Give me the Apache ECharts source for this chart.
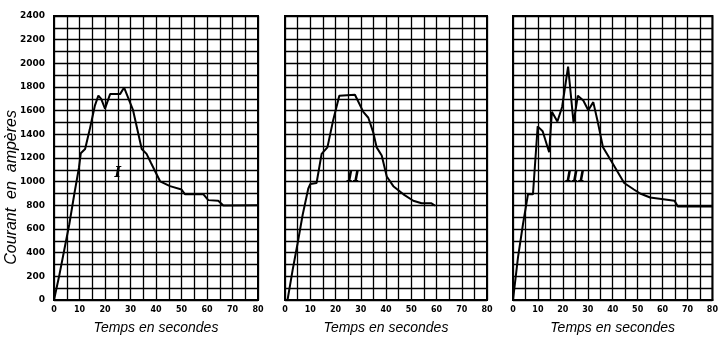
<!DOCTYPE html>
<html>
<head>
<meta charset="utf-8">
<script src="https://cdn.jsdelivr.net/npm/echarts@6/dist/echarts.min.js"></script>
<style>
  html, body { margin: 0; padding: 0; background: #fff; }
  #chart { width: 721px; height: 340px; }
</style>
</head>
<body>
<div id="chart"></div>
<script>
// Current (amperes) against time (seconds) for three starts: I, II, III
const trialNames = ['I', 'II', 'III'];

const timeI    = [0, 2, 4, 6, 8, 9.8, 10.5, 12.2, 14, 16, 17.4, 18.5, 20, 22, 25.9, 27.5, 31, 34.4, 36.3, 38, 41.6, 45.5, 50, 51.4, 58.6, 60.5, 64.4, 66.4, 80];
const currentI = [0, 200, 420, 640, 900, 1120, 1240, 1276, 1440, 1640, 1727, 1700, 1617, 1740, 1740, 1795, 1604, 1276, 1235, 1160, 1003, 962, 934, 893, 893, 844, 839, 798, 800];

const timeII    = [1, 3, 5, 7, 9.2, 10, 12.5, 14.5, 16.8, 19.1, 21.5, 27.7, 31, 33, 35, 36.3, 38.3, 40.3, 42.9, 46.9, 50.8, 54.1, 58, 59.4];
const currentII = [0, 250, 480, 720, 940, 980, 989, 1235, 1290, 1522, 1727, 1735, 1590, 1540, 1412, 1290, 1221, 1044, 962, 893, 839, 817, 817, 798];

const timeIII    = [0, 2, 4, 6, 8, 9.9, 11.9, 14.5, 15.6, 17.8, 19.7, 22.1, 24.3, 26, 28.2, 30.2, 32.2, 34.1, 36.1, 40, 44.6, 48.5, 51, 55, 64.8, 66.1, 80];
const currentIII = [0, 360, 640, 893, 893, 1467, 1426, 1249, 1590, 1508, 1631, 1973, 1495, 1727, 1686, 1604, 1672, 1495, 1290, 1153, 989, 934, 900, 866, 839, 790, 790];

// Where the roman numeral of each trial sits inside its panel
const numeralTime    = [25, 27, 25];
const numeralCurrent = [1070, 1040, 1040];

const xTicks = { min: 0, max: 80, step: 5, labelStep: 10 };
const yTicks = { min: 0, max: 2400, step: 100, labelStep: 200 };

const pairs = (xs, ys) => xs.map((x, i) => [x, ys[i]]);
const trials = [pairs(timeI, currentI), pairs(timeII, currentII), pairs(timeIII, currentIII)];

const ink = '#000';
const gridBoxes = [
  { left: 54, top: 16, width: 204, height: 293 },
  { left: 285, top: 16, width: 202, height: 293 },
  { left: 513, top: 16, width: 204, height: 293 }
];

const chart = echarts.init(document.getElementById('chart'), null, { renderer: 'canvas' });

const option = {
  backgroundColor: '#fff',
  animation: false,
  grid: gridBoxes.map(b => Object.assign({ show: true, borderColor: ink, borderWidth: 2, backgroundColor: 'transparent' }, b)),
  xAxis: gridBoxes.map((b, i) => ({
    type: 'value', gridIndex: i,
    min: xTicks.min, max: xTicks.max, interval: xTicks.step,
    axisLine: { show: true, lineStyle: { color: ink, width: 2 } },
    axisTick: { show: false },
    splitLine: { show: true, lineStyle: { color: ink, width: 1.3 } },
    axisLabel: {
      color: ink, fontFamily: 'DejaVu Sans', fontWeight: 'bold', fontSize: 8, margin: 6,
      formatter: v => (v % xTicks.labelStep === 0 ? String(v) : '')
    },
    name: 'Temps en secondes', nameLocation: 'middle', nameGap: 21,
    nameTextStyle: { color: ink, fontFamily: 'Liberation Sans', fontStyle: 'italic', fontSize: 14 }
  })),
  yAxis: gridBoxes.map((b, i) => ({
    type: 'value', gridIndex: i,
    min: yTicks.min, max: yTicks.max, interval: yTicks.step,
    axisLine: { show: true, lineStyle: { color: ink, width: 2 } },
    axisTick: { show: false },
    splitLine: { show: true, lineStyle: { color: ink, width: 1.3 } },
    axisLabel: {
      show: i === 0,
      color: ink, fontFamily: 'DejaVu Sans', fontWeight: 'bold', fontSize: 9, margin: 9,
      formatter: v => (v % yTicks.labelStep === 0 ? String(v) : '')
    }
  })),
  graphic: [{
    type: 'text', left: 4, top: 110, rotation: Math.PI / 2,
    style: { text: 'Courant  en  ampères', fill: ink, font: 'italic 16px "Liberation Sans"' }
  }],
  series: trials.map((data, i) => ({
    type: 'line', xAxisIndex: i, yAxisIndex: i,
    data: data, showSymbol: false, smooth: false,
    lineStyle: { color: ink, width: 2 },
    markPoint: {
      symbol: 'circle', symbolSize: 0,
      label: { show: true, color: ink, fontFamily: 'DejaVu Serif', fontStyle: 'italic', fontWeight: 'bold', fontSize: 14, formatter: trialNames[i] },
      data: [{ coord: [numeralTime[i], numeralCurrent[i]] }]
    }
  }))
};

chart.setOption(option);
</script>
</body>
</html>
